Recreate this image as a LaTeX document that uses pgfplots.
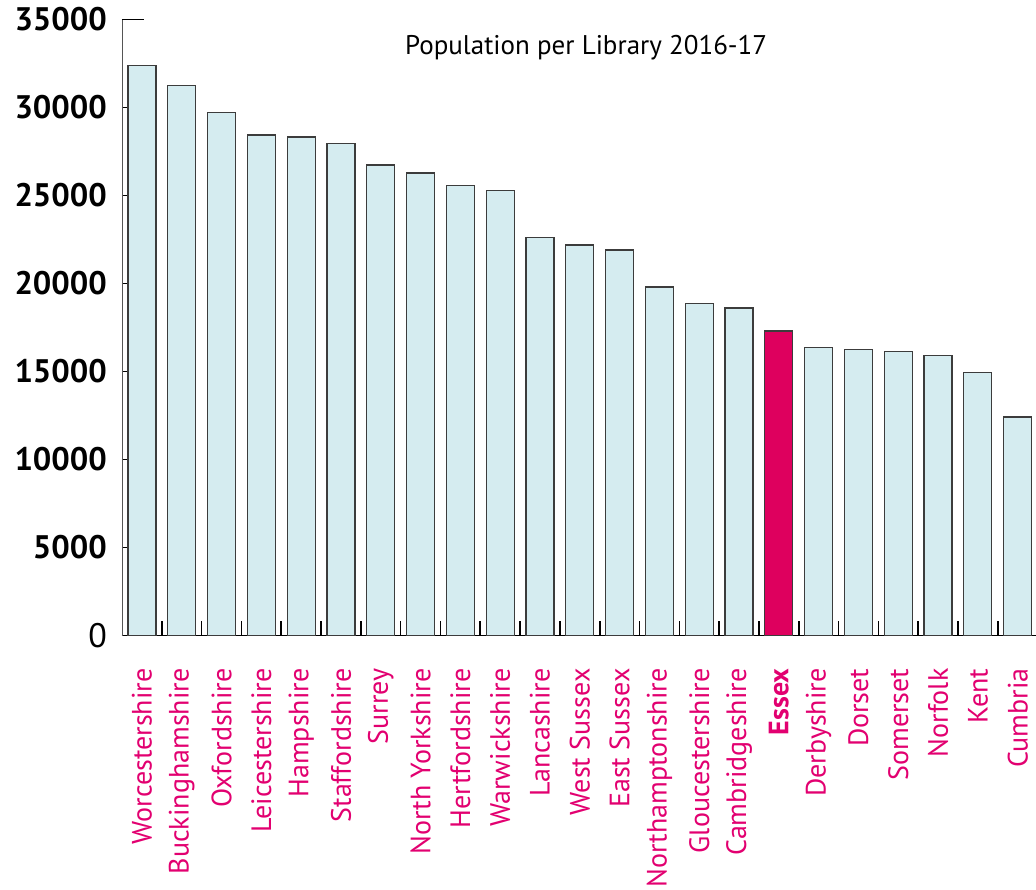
\documentclass[border=0pt]{standalone}
\usepackage{pgfplots}
\pgfplotsset{compat=1.18}
\usepackage{fontspec}
\setmainfont{PT Sans}
\definecolor{barblue}{RGB}{213,236,240}
\definecolor{baredge}{RGB}{60,60,60}
\definecolor{essex}{RGB}{222,0,94}
\definecolor{lab}{RGB}{226,0,112}
\begin{document}
\begin{tikzpicture}
\useasboundingbox (-61pt,-126.75pt) rectangle (457pt,317.75pt);
\begin{axis}[
    at={(0,0)}, anchor=south west,
    scale only axis,
    width=457pt, height=308pt,
    axis lines=left,
    axis line style={-},
    y axis line style={draw={rgb,255:red,85;green,85;blue,85}},
    xmin=-0.5, xmax=22.46,
    ymin=0, ymax=35000,
    ytick={0,5000,...,30000},
    yticklabels={\raisebox{-6pt}{\fontsize{17}{17}\selectfont 0},\textbf{5000},\textbf{10000},\textbf{15000},\textbf{20000},\textbf{25000},\textbf{30000}},
    extra y ticks={35000},
    extra y tick labels={\textbf{35000}},
    extra y tick style={major tick length=11pt, tick align=inside},
    scaled y ticks=false,
    tick align=inside,
    major tick length=3pt,
    yticklabel style={font=\fontsize{16.3}{16.3}\selectfont, xshift=-4pt},
    xtick={0,...,22},
    xticklabels={Worcestershire,Buckinghamshire,Oxfordshire,Leicestershire,Hampshire,Staffordshire,Surrey,North Yorkshire,Hertfordshire,Warwickshire,Lancashire,West Sussex,East Sussex,Northamptonshire,Gloucestershire,Cambridgeshire,\textbf{Essex},Derbyshire,Dorset,Somerset,Norfolk,Kent,Cumbria},
    x tick style={draw=none},
    minor xtick={0.5,1.5,...,21.5},
    minor x tick style={draw=black, line width=0.8pt},
    minor tick length=7.5pt,
    xticklabel style={rotate=90, anchor=east, font=\fontsize{14}{14}\selectfont, text=lab, xshift=-13pt},
    every tick/.style={line width=0.8pt},
    clip=false,
]
\addplot[ybar, bar width=14pt, bar shift=0pt, fill=barblue, draw=baredge, line width=0.6pt]
coordinates {
    (0,32400) (1,31260) (2,29730) (3,28440) (4,28320) (5,27970) (6,26730)
    (7,26280) (8,25580) (9,25300) (10,22600) (11,22190) (12,21900)
    (13,19800) (14,18850) (15,18610) (17,16350) (18,16240) (19,16150)
    (20,15920) (21,14950) (22,12410)
};
\addplot[ybar, bar width=14pt, bar shift=0pt, fill=essex, draw=baredge, line width=0.6pt]
coordinates {(16,17300)};
\node[font=\fontsize{13.5}{13.5}\selectfont] at (axis cs:11.16,33400) {Population per Library 2016-17};
\end{axis}
\end{tikzpicture}
\end{document}
